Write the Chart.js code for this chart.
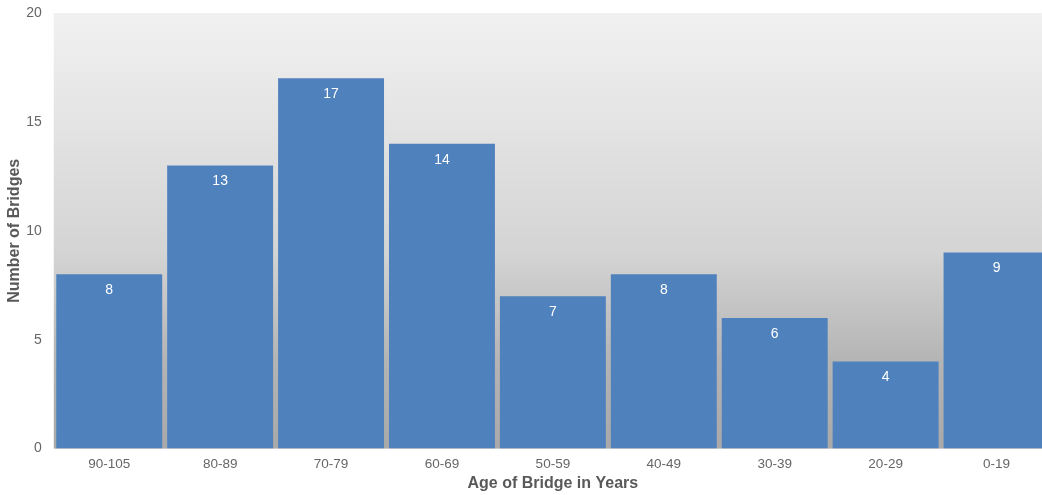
<!DOCTYPE html>
<html>
<head>
<meta charset="utf-8">
<script src="https://cdn.jsdelivr.net/npm/chart.js@4"></script>
<style>
  html, body { margin: 0; padding: 0; background: #ffffff; overflow: hidden; }
  #wrap { width: 1042px; height: 495px; overflow: hidden; }
</style>
</head>
<body>
<div id="wrap"><canvas id="myChart" width="1052" height="495"></canvas></div>
<script>
const ageGroups = ['90-105', '80-89', '70-79', '60-69', '50-59', '40-49', '30-39', '20-29', '0-19'];
const bridgeCounts = [8, 13, 17, 14, 7, 8, 6, 4, 9];
const yTicks = [0, 5, 10, 15, 20];

// gradient behind the bars
const plotBackground = {
    id: 'plotBackground',
    beforeDatasetsDraw(chart) {
        const { ctx, chartArea } = chart;
        const g = ctx.createLinearGradient(0, chartArea.top, 0, chartArea.bottom);
        g.addColorStop(0, '#f1f1f1');
        g.addColorStop(0.55, '#d4d4d4');
        g.addColorStop(0.8, '#b4b4b4');
        g.addColorStop(1, '#a9a9a9');
        ctx.save();
        ctx.fillStyle = g;
        ctx.fillRect(chartArea.left, chartArea.top, chartArea.right - chartArea.left, chartArea.bottom - chartArea.top);
        ctx.restore();
    }
};

// value labels just inside the top of each bar
const barLabels = {
    id: 'barLabels',
    afterDatasetsDraw(chart) {
        const { ctx } = chart;
        const meta = chart.getDatasetMeta(0);
        ctx.save();
        ctx.fillStyle = '#ffffff';
        ctx.font = '14px "Liberation Sans", Arial, sans-serif';
        ctx.textAlign = 'center';
        ctx.textBaseline = 'middle';
        meta.data.forEach((bar, i) => {
            ctx.fillText(String(bridgeCounts[i]), bar.x, bar.y + 16);
        });
        ctx.restore();
    }
};

// canvas is a little wider than the window: the last bar runs off the right edge like the original
new Chart(document.getElementById('myChart'), {
    type: 'bar',
    data: {
        labels: ageGroups,
        datasets: [{
            data: bridgeCounts,
            backgroundColor: '#4f81bd',
            borderWidth: 0,
            categoryPercentage: 1.0,
            barPercentage: 0.955
        }]
    },
    options: {
        responsive: false,
        animation: false,
        layout: { padding: { top: 13, right: 0, left: 0, bottom: 0 } },
        plugins: {
            legend: { display: false },
            tooltip: { enabled: false }
        },
        scales: {
            x: {
                grid: { display: false, drawTicks: false },
                border: { display: false },
                ticks: {
                    color: '#666666',
                    padding: 8,
                    font: { size: 13.5, family: '"Liberation Sans", Arial, sans-serif' }
                },
                title: {
                    display: true,
                    text: 'Age of Bridge in Years',
                    color: '#595959',
                    padding: { top: -7, bottom: 2 },
                    font: { size: 16, weight: 'bold', family: '"Liberation Sans", Arial, sans-serif' }
                }
            },
            y: {
                min: 0,
                max: 20,
                afterBuildTicks(axis) { axis.ticks = yTicks.map(v => ({ value: v })); },
                afterFit(axis) { axis.paddingTop = 0; },
                grid: { display: false, drawTicks: false },
                border: { display: false },
                ticks: {
                    color: '#666666',
                    padding: 12,
                    font: { size: 14, family: '"Liberation Sans", Arial, sans-serif' }
                },
                title: {
                    display: true,
                    text: 'Number of Bridges',
                    color: '#595959',
                    padding: { top: 5, bottom: -10 },
                    font: { size: 16, weight: 'bold', family: '"Liberation Sans", Arial, sans-serif' }
                }
            }
        }
    },
    plugins: [plotBackground, barLabels]
});
</script>
</body>
</html>
